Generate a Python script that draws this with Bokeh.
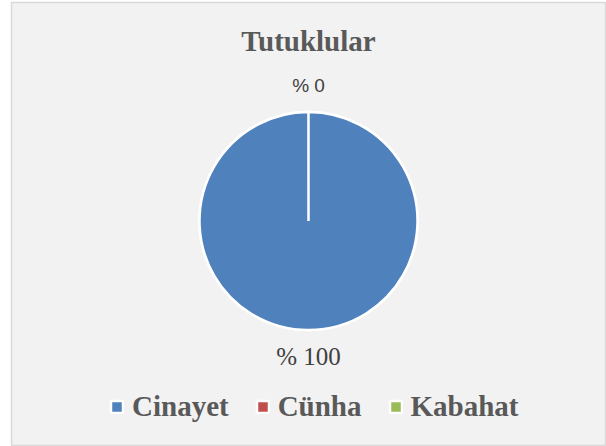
import numpy as np
from bokeh.plotting import figure
from bokeh.models import ColumnDataSource, Range1d, Label, Legend, LegendItem
from bokeh.core.properties import value
from bokeh.embed import file_html
from bokeh.resources import INLINE

# ---- data ----
title_text = "Tutuklular"
categories = ["Cinayet", "Cünha", "Kabahat"]
percentages = [100, 0, 0]
slice_colors = ["#4f81bd", "#c0504d", "#9bbb59"]
label_fonts = ["Liberation Serif", "Liberation Sans", "Liberation Sans"]
label_sizes = ["25px", "19px", "19px"]

# ---- derived geometry (pie starts at 12 o'clock, clockwise) ----
vals = np.array(percentages, dtype=float)
frac = vals / vals.sum()
cum_end = np.cumsum(frac)
cum_start = cum_end - frac
start_angle = np.pi / 2 - 2 * np.pi * cum_start
# a full-turn sweep would be normalised to zero, so keep it a hair short of 2*pi
end_angle = start_angle - 2 * np.pi * frac * (1 - 1e-4)
mid_angle = np.pi / 2 - np.pi * (cum_start + cum_end)
label_r = 1.245
lx = label_r * np.cos(mid_angle)
ly = label_r * np.sin(mid_angle)
labels = [f"% {v:g}" for v in percentages]

# draw order reversed so the largest (first) slice is painted last, on top
order = list(range(len(categories)))[::-1]
src = ColumnDataSource(dict(
    category=[categories[i] for i in order],
    start=[start_angle[i] for i in order],
    end=[end_angle[i] for i in order],
    color=[slice_colors[i] for i in order],
))

p = figure(width=606, height=446, output_backend="svg", toolbar_location=None,
           x_range=Range1d(-2.7248, 2.7248), y_range=Range1d(-2.0596, 2.0046),
           x_axis_location=None, y_axis_location=None,
           min_border_left=11, min_border_right=1, min_border_top=2, min_border_bottom=1,
           background_fill_color="#f2f2f2", border_fill_color="white",
           outline_line_color="#d9d9d9", outline_line_width=1.5)
p.grid.visible = False

r = p.wedge(x=0, y=0, radius=1, start_angle="start", end_angle="end",
            direction="clock", fill_color="color", line_color="white",
            line_width=2.5, source=src)

# data labels: identical labels at identical positions are drawn once
seen = set()
groups = {}
for i in range(len(categories)):
    key = (labels[i], round(lx[i], 6), round(ly[i], 6))
    if key in seen:
        continue
    seen.add(key)
    g = groups.setdefault((label_fonts[i], label_sizes[i]), dict(x=[], y=[], t=[]))
    g["x"].append(lx[i]); g["y"].append(ly[i]); g["t"].append(labels[i])

for (font, size), g in groups.items():
    p.text(x="x", y="y", text="t", source=ColumnDataSource(g),
           text_font=value(font), text_font_size=value(size),
           text_align="center", text_baseline="middle", text_color="#404040")

p.add_layout(Label(x=0, y=1.651, text=title_text, text_font="Liberation Serif",
                   text_font_size="29px", text_font_style="bold",
                   text_color="#595959", text_align="center",
                   text_baseline="middle"))

legend = Legend(
    items=[LegendItem(label=c, renderers=[r], index=order.index(i))
           for i, c in enumerate(categories)],
    orientation="horizontal", location=(98, 22),
    label_text_font="Liberation Serif", label_text_font_style="bold",
    label_text_font_size="29px", label_text_color="#595959",
    glyph_width=15, glyph_height=15, label_standoff=8, spacing=26,
    padding=0, margin=0, border_line_color=None, background_fill_alpha=0)
p.add_layout(legend)

open("out.html", "w").write(file_html(p, INLINE))
